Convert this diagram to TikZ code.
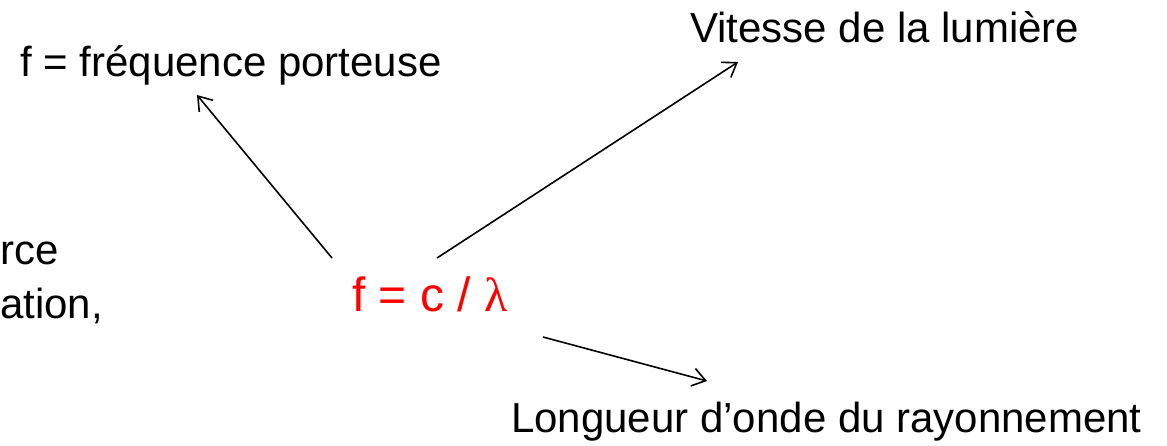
\documentclass[tikz,border=0pt]{standalone}
\usepackage{fontspec}
\setmainfont{Liberation Sans}
\newfontfamily\greekfont{Liberation Serif}
\definecolor{formula}{HTML}{FF0000}
\usetikzlibrary{arrows.meta}
\tikzset{
  label_txt/.style={inner sep=0pt,anchor=base west,font=\fontsize{42}{50}\selectfont},
  formula_txt/.style={inner sep=0pt,anchor=base west,text=formula,font=\fontsize{48}{56}\selectfont},
  arr/.style={-{Straight Barb[length=13pt,width=18pt,line width=1.6pt]},draw=black,line width=1.6pt},
}

\begin{document}
\begin{tikzpicture}[x=1pt,y=1pt]
    \useasboundingbox (0,0) rectangle (1167,-445);
    % labels
    \node[label_txt] (porteuse) at (20,-76) {f = fréquence porteuse};
    \node[label_txt] (vitesse) at (690,-42) {Vitesse de la lumière};
    \node[label_txt] (longueur) at (511,-432) {Longueur d’onde du rayonnement};
    \node[label_txt] (rce) at (0,-264) {rce};
    \node[label_txt] (ation) at (0,-318) {ation,};
    \node[formula_txt] (formule) at (352,-311) {f = c / {\greekfont λ}};

    % arrow ends
    \coordinate (f_left) at (332,-258);
    \coordinate (f_right) at (437,-258);
    \coordinate (f_low) at (543,-337);
    \coordinate (porteuse_tip) at (197,-95);
    \coordinate (vitesse_tip) at (738,-62);
    \coordinate (longueur_tip) at (707,-381);

    \draw[arr](f_left)--(porteuse_tip);\draw[arr](f_right)--(vitesse_tip);\draw[arr](f_low)--(longueur_tip);
\end{tikzpicture}
\end{document}
